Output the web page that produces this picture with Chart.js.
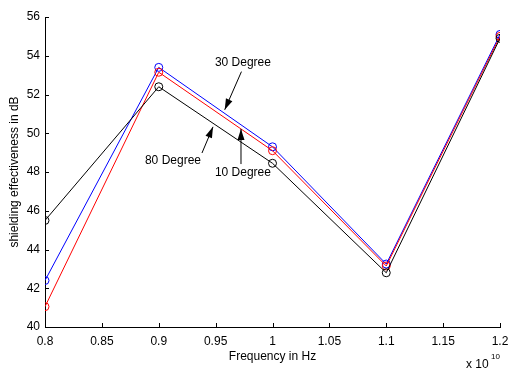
<!DOCTYPE html>
<html lang="en">
<head>
    <meta charset="UTF-8">
    <title>Shielding effectiveness</title>
    <script src="https://cdn.jsdelivr.net/npm/chart.js"></script>
    <style>
        body {
            margin: 0;
            padding: 0;
            background-color: #ffffff;
        }
        #wrap {
            width: 508px;
            height: 370px;
        }
    </style>
</head>
<body>
    <div id="wrap"><canvas id="se-chart"></canvas></div>

    <script>
        // Data (frequency in units of 1e10 Hz, shielding effectiveness in dB)
        const freqs = [0.8, 0.9, 1.0, 1.1, 1.2];
        const se10 = [41.05, 53.15, 49.1, 43.15, 55.0];
        const se30 = [42.4, 53.4, 49.3, 43.25, 55.1];
        const se80 = [45.5, 52.4, 48.45, 42.8, 54.9];
        const xTicks = [0.8, 0.85, 0.9, 0.95, 1.0, 1.05, 1.1, 1.15, 1.2];

        // Annotations in data units: label, text position, arrow tail, arrow head
        const notes = [
            { text: '30 Degree', at: [0.974, 53.65], from: [0.9727, 53.18], to: [0.958, 51.21] },
            { text: '80 Degree', at: [0.9125, 48.56], from: [0.938, 48.98], to: [0.9477, 50.33] },
            { text: '10 Degree', at: [0.974, 47.99], from: [0.9723, 48.41], to: [0.9723, 50.22] }
        ];

        const FONT = 'Liberation Sans, Arial, sans-serif';

        function series(vals, color) {
            return {
                data: freqs.map((f, i) => ({ x: f, y: vals[i] })),
                borderColor: color,
                borderWidth: 1,
                pointRadius: 4,
                pointBorderWidth: 1,
                pointBorderColor: color,
                pointBackgroundColor: 'rgba(0,0,0,0)',
                tension: 0
            };
        }

        // Inward ticks, axis titles, exponent and arrow annotations
        const extras = {
            id: 'extras',
            afterDraw(chart) {
                const ctx = chart.ctx;
                const xs = chart.scales.x, ys = chart.scales.y;
                const area = chart.chartArea;
                ctx.save();
                ctx.strokeStyle = '#000';
                ctx.lineWidth = 1;
                xs.ticks.forEach(t => {
                    const px = Math.round(xs.getPixelForValue(t.value)) + 0.5;
                    ctx.beginPath();
                    ctx.moveTo(px, area.bottom);
                    ctx.lineTo(px, area.bottom - 4);
                    ctx.stroke();
                });
                ys.ticks.forEach(t => {
                    const py = Math.round(ys.getPixelForValue(t.value)) + 0.5;
                    ctx.beginPath();
                    ctx.moveTo(area.left, py);
                    ctx.lineTo(area.left + 4, py);
                    ctx.stroke();
                });

                ctx.fillStyle = '#000';
                ctx.font = '12px ' + FONT;
                ctx.textAlign = 'center';
                ctx.textBaseline = 'middle';
                ctx.fillText('Frequency in Hz', (area.left + area.right) / 2, 357);

                ctx.save();
                ctx.translate(15, (area.top + area.bottom) / 2);
                ctx.rotate(-Math.PI / 2);
                ctx.fillText('shielding effectiveness in dB', 0, 0);
                ctx.restore();

                ctx.textAlign = 'left';
                ctx.fillText('x 10', 466, 365);
                ctx.font = '8px ' + FONT;
                ctx.fillText('10', 491, 357);

                ctx.font = '12px ' + FONT;
                ctx.textAlign = 'center';
                notes.forEach(n => {
                    const tx = xs.getPixelForValue(n.at[0]);
                    const ty = ys.getPixelForValue(n.at[1]);
                    ctx.fillText(n.text, tx, ty);
                    const x0 = xs.getPixelForValue(n.from[0]), y0 = ys.getPixelForValue(n.from[1]);
                    const x1 = xs.getPixelForValue(n.to[0]), y1 = ys.getPixelForValue(n.to[1]);
                    const ang = Math.atan2(y1 - y0, x1 - x0);
                    ctx.beginPath();
                    ctx.moveTo(x0, y0);
                    ctx.lineTo(x1, y1);
                    ctx.stroke();
                    const len = 11, half = 3.5;
                    const bx = x1 - len * Math.cos(ang), by = y1 - len * Math.sin(ang);
                    ctx.beginPath();
                    ctx.moveTo(x1, y1);
                    ctx.lineTo(bx + half * Math.sin(ang), by - half * Math.cos(ang));
                    ctx.lineTo(bx - half * Math.sin(ang), by + half * Math.cos(ang));
                    ctx.closePath();
                    ctx.fill();
                });
                ctx.restore();
            }
        };

        new Chart(document.getElementById('se-chart'), {
            type: 'line',
            data: {
                datasets: [
                    series(se80, '#000000'),
                    series(se10, '#ff0000'),
                    series(se30, '#0000ff')
                ]
            },
            options: {
                responsive: true,
                maintainAspectRatio: false,
                animation: false,
                layout: { padding: { top: 17, right: 8, left: 0, bottom: 0 } },
                plugins: {
                    legend: { display: false },
                    tooltip: { enabled: false }
                },
                scales: {
                    x: {
                        type: 'linear',
                        min: 0.8,
                        max: 1.2,
                        afterFit: s => {
                            s.height = 43;
                            s.paddingLeft = 0;
                            s.paddingRight = 0;
                        },
                        afterBuildTicks: s => {
                            s.ticks = xTicks.map(v => ({ value: v }));
                        },
                        grid: { display: false, drawTicks: false },
                        border: { display: true, color: '#000', width: 1 },
                        ticks: {
                            color: '#000',
                            padding: 7,
                            maxRotation: 0,
                            font: { family: FONT, size: 12 },
                            callback: v => String(Number(v.toFixed(2)))
                        }
                    },
                    y: {
                        min: 40,
                        max: 56,
                        afterFit: s => {
                            s.width = 45;
                            s.paddingTop = 0;
                            s.paddingBottom = 0;
                        },
                        grid: { display: false, drawTicks: false },
                        border: { display: true, color: '#000', width: 1 },
                        ticks: {
                            stepSize: 2,
                            color: '#000',
                            padding: 5,
                            font: { family: FONT, size: 12 }
                        }
                    }
                }
            },
            plugins: [extras]
        });
    </script>
</body>
</html>
